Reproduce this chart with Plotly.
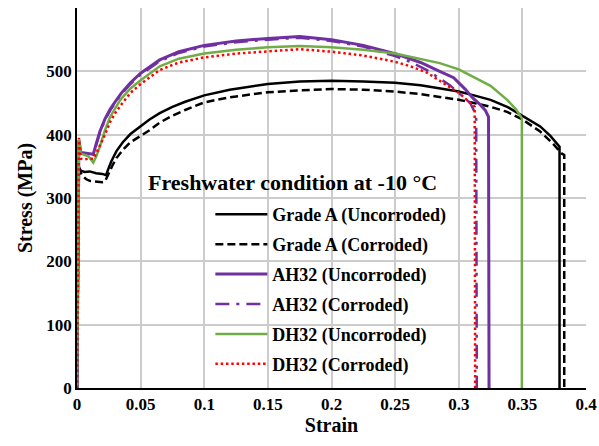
import plotly.graph_objects as go

# ---- data (strain, stress in MPa) ----
ga_u_strain = [0, 0.0015, 0.003, 0.006, 0.01, 0.015, 0.02, 0.0228, 0.025, 0.027, 0.031, 0.036, 0.042, 0.05, 0.057, 0.065, 0.075, 0.085, 0.1, 0.12, 0.15, 0.175, 0.2, 0.225, 0.25, 0.27, 0.285, 0.3, 0.312, 0.325, 0.338, 0.35, 0.364, 0.372, 0.378, 0.3792, 0.3792]
ga_u_stress = [0, 349, 343, 341, 342, 339, 338, 336, 348, 358, 374, 388, 401, 414, 424, 434, 444, 452, 462, 471, 480, 484, 485, 484, 482, 478, 473, 468, 462, 455, 444, 430, 413, 398, 384, 381, 0]

ga_c_strain = [0, 0.0015, 0.004, 0.007, 0.01, 0.015, 0.02, 0.022, 0.025, 0.028, 0.031, 0.036, 0.042, 0.05, 0.057, 0.065, 0.075, 0.085, 0.1, 0.12, 0.15, 0.175, 0.2, 0.225, 0.25, 0.27, 0.285, 0.3, 0.312, 0.325, 0.338, 0.35, 0.364, 0.374, 0.381, 0.3829, 0.3829]
ga_c_stress = [0, 345, 336, 330, 327, 326, 325, 326, 340, 352, 363, 376, 388, 398, 407, 419, 430, 439, 451, 459, 467, 470, 472, 471, 468, 464, 460, 455, 450, 444, 436, 424, 405, 386, 370, 368, 0]

ah_u_strain = [0, 0.0015, 0.003, 0.006, 0.009, 0.0128, 0.015, 0.018, 0.022, 0.026, 0.03, 0.035, 0.042, 0.05, 0.065, 0.08, 0.1, 0.125, 0.15, 0.175, 0.2, 0.225, 0.25, 0.27, 0.285, 0.296, 0.305, 0.311, 0.317, 0.321, 0.3234, 0.3238]
ah_u_stress = [0, 392, 372, 371, 370, 369, 385, 405, 425, 440, 452, 466, 482, 497, 518, 531, 541, 548, 552, 555, 550, 541, 528, 514, 500, 490, 472, 458, 447, 438, 428, 0]

ah_c_strain = [0, 0.0015, 0.003, 0.006, 0.009, 0.0128, 0.015, 0.018, 0.022, 0.026, 0.03, 0.035, 0.042, 0.05, 0.065, 0.08, 0.1, 0.125, 0.15, 0.175, 0.2, 0.225, 0.25, 0.262, 0.275, 0.285, 0.293, 0.3, 0.309, 0.3137, 0.3142]
ah_c_stress = [0, 388, 370, 369, 369, 368, 383, 403, 423, 438, 450, 464, 480, 495, 516, 529, 539, 546, 550, 553, 548, 539, 524, 515, 502, 488, 478, 466, 450, 431, 0]

dh_u_strain = [0, 0.0015, 0.003, 0.006, 0.009, 0.0128, 0.015, 0.018, 0.022, 0.026, 0.03, 0.034, 0.042, 0.05, 0.065, 0.08, 0.1, 0.125, 0.15, 0.175, 0.2, 0.225, 0.25, 0.27, 0.285, 0.3, 0.312, 0.325, 0.338, 0.345, 0.3496, 0.3496]
dh_u_stress = [0, 392, 370, 368, 366, 356, 365, 381, 407, 428, 441, 455, 473, 486, 508, 520, 528, 534, 538, 540, 538, 534, 528, 520, 513, 503, 491, 477, 455, 440, 426, 0]

dh_c_strain = [0, 0.0015, 0.003, 0.006, 0.009, 0.0128, 0.015, 0.018, 0.022, 0.026, 0.03, 0.035, 0.042, 0.05, 0.065, 0.08, 0.1, 0.125, 0.15, 0.175, 0.2, 0.225, 0.25, 0.262, 0.275, 0.288, 0.3, 0.308, 0.3125, 0.3129]
dh_c_stress = [0, 395, 362, 361, 362, 362, 370, 382, 400, 420, 434, 448, 466, 480, 502, 514, 522, 528, 532, 535, 531, 525, 515, 508, 498, 481, 466, 452, 444, 0]

x_ticks = [0, 0.05, 0.1, 0.15, 0.2, 0.25, 0.3, 0.35, 0.4]
x_tick_labels = ["0", "0.05", "0.1", "0.15", "0.2", "0.25", "0.3", "0.35", "0.4"]
y_ticks = [0, 100, 200, 300, 400, 500, 600]

FONT = "Liberation Serif"
PURPLE = "#7030A0"
GREEN = "#70AD47"
RED = "#FF0000"
GRID = "#CCCCCC"

series = [
    ("Grade A (Uncorroded)", ga_u_strain, ga_u_stress, "black", "solid", 2.5),
    ("Grade A (Corroded)", ga_c_strain, ga_c_stress, "black", "8px,4px", 2.5),
    ("AH32 (Uncorroded)", ah_u_strain, ah_u_stress, PURPLE, "solid", 3),
    ("AH32 (Corroded)", ah_c_strain, ah_c_stress, PURPLE, "14px,7px,3px,7px", 2.5),
    ("DH32 (Uncorroded)", dh_u_strain, dh_u_stress, GREEN, "solid", 2.5),
    ("DH32 (Corroded)", dh_c_strain, dh_c_stress, RED, "2.5px,2.8px", 2.5),
]

fig = go.Figure()
for i, (name, xs, ys, col, dash, w) in enumerate(series):
    fig.add_trace(go.Scatter(x=xs, y=ys, mode="lines", name=name,
                             line=dict(color=col, dash=dash, width=w),
                             legendgroup=str(i)))

fig.add_annotation(text="<b>Freshwater condition at -10 °C</b>", x=0.169, y=325,
                   xref="x", yref="y", showarrow=False,
                   font=dict(family=FONT, size=22, color="black"))

fig.update_layout(
    template="none",
    width=599, height=446,
    margin=dict(l=77, r=13, t=8, b=58),
    paper_bgcolor="white", plot_bgcolor="white",
    font=dict(family=FONT, color="black"),
    showlegend=True,
    legend=dict(x=0.262, y=0.505, xanchor="left", yanchor="top",
                bgcolor="rgba(0,0,0,0)", tracegroupgap=3.5, itemwidth=52,
                font=dict(family=FONT, size=18, color="black", weight="bold")),
    xaxis=dict(range=[0, 0.4], tickmode="array", tickvals=x_ticks, ticktext=x_tick_labels,
               showgrid=True, gridcolor=GRID, gridwidth=2,
               showline=True, linecolor="black", linewidth=2,
               zeroline=False, ticks="",
               tickfont=dict(family=FONT, size=17, color="black", weight="bold"),
               title=dict(text="<b>Strain</b>", font=dict(family=FONT, size=20, color="black"), standoff=4)),
    yaxis=dict(range=[0, 600], tickmode="array", tickvals=y_ticks,
               showgrid=True, gridcolor=GRID, gridwidth=2,
               showline=True, linecolor="black", linewidth=1.5,
               zeroline=False, ticks="",
               tickfont=dict(family=FONT, size=17, color="black", weight="bold"),
               title=dict(text="<b>Stress (MPa)</b>", font=dict(family=FONT, size=20, color="black"), standoff=8)),
)

fig.write_html("out.html")
